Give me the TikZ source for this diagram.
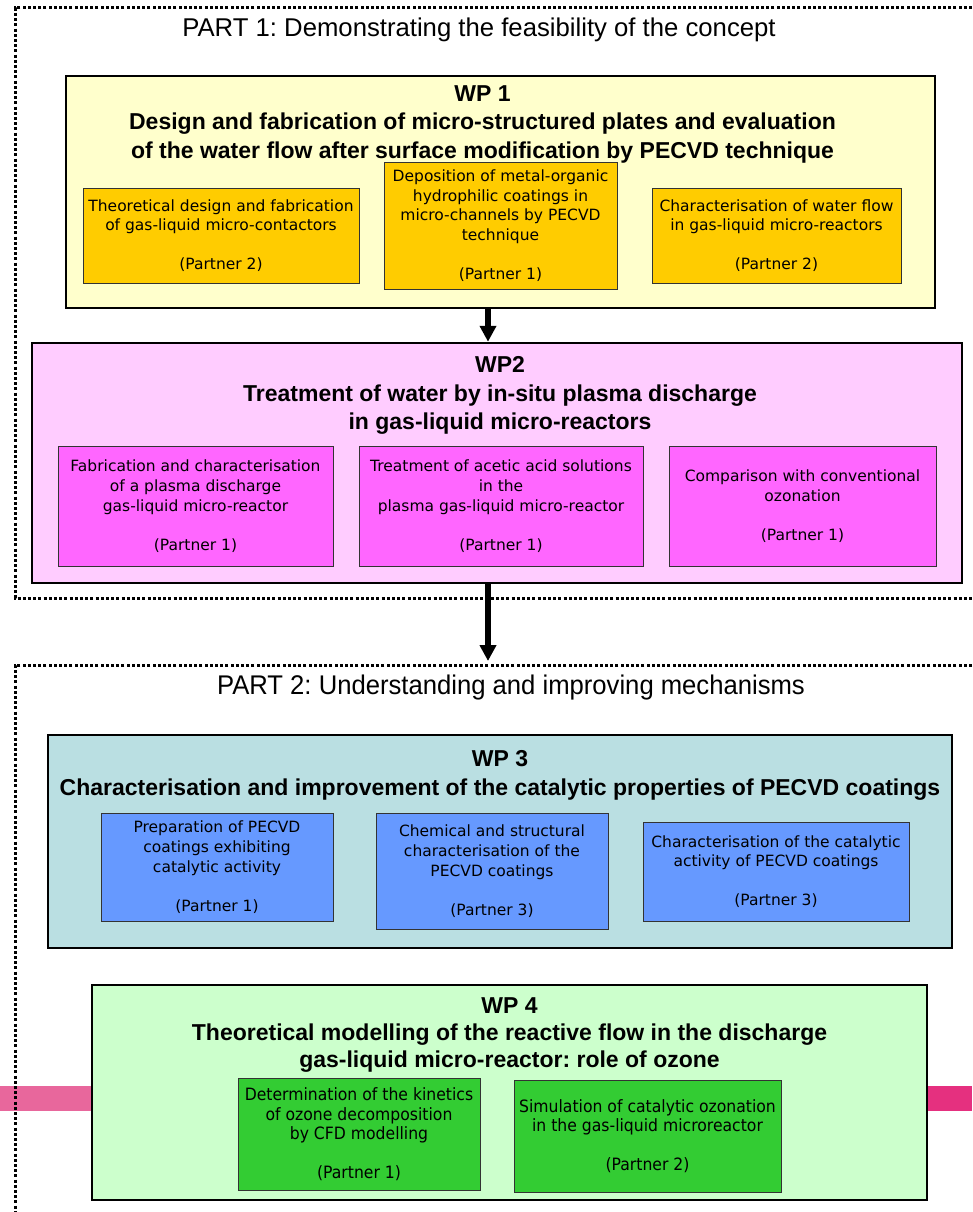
\documentclass[tikz,border=0pt]{standalone}
\usepackage{fontspec}
\setmainfont{Liberation Sans}
\newfontfamily\boxfont{DejaVu Sans}
\newfontfamily\boxnarrowfont[FakeStretch=0.92]{DejaVu Sans}
\newfontfamily\partnarrowfont[FakeStretch=0.95]{Liberation Sans}
\usetikzlibrary{positioning,arrows.meta}

\definecolor{wponeback}{HTML}{FFFFCC}
\definecolor{wponetask}{HTML}{FFCC00}
\definecolor{wptwoback}{HTML}{FFCCFF}
\definecolor{wptwotask}{HTML}{FF66FF}
\definecolor{wpthreeback}{HTML}{BADFE2}
\definecolor{wpthreetask}{HTML}{6699FF}
\definecolor{wpfourback}{HTML}{CCFFCC}
\definecolor{wpfourtask}{HTML}{33CC33}
\definecolor{barleft}{HTML}{E8679C}
\definecolor{barright}{HTML}{E5307F}

\tikzset{
  wpbox/.style={rectangle, draw=black, line width=2.5pt, inner sep=0pt},
  wptitle/.style={align=center, inner sep=0pt, font=\fontsize{23}{28.5}\selectfont\bfseries},
  task/.style={rectangle, draw=black!80, line width=0.9pt, align=center, inner sep=0pt,
    font=\fontsize{15.5}{19.8}\selectfont\boxfont},
  narrowtask/.style={task, font=\fontsize{17}{19.6}\selectfont\boxnarrowfont},
  partframe/.style={line width=3pt, dash pattern=on 3pt off 2.2pt},
  flowarrow/.style={line width=5.5pt, -{Triangle[length=16pt,width=16pt]}}
}

\begin{document}
\frenchspacing
\begin{tikzpicture}[x=1pt,y=-1pt]
\useasboundingbox (0,0) rectangle (972,1212);

% pink bars behind part 2
\fill[barleft] (0,1086) rectangle (92,1111);
\fill[barright] (927,1086) rectangle (972,1111);

% part frames
\draw[partframe] (972,8) -| (15,598) -- (972,598);
\draw[partframe] (972,665) -| (15,1212);
\coordinate (p2in) at (488,661);

\node[font=\fontsize{25.7}{30}\selectfont] (part1) at (479,30) {PART 1: Demonstrating the feasibility of the concept};
\node[font=\fontsize{27}{30}\selectfont\partnarrowfont] (part2) at (511,688) {PART 2: Understanding and improving mechanisms};

% WP 1
\node[wpbox, fill=wponeback, minimum width=869, minimum height=232] (wp1) at (500.5,192) {};
\node[wptitle, below=10.5pt of wp1.north, xshift=-18pt] (wp1t) {WP 1\\Design and fabrication of micro-structured plates and evaluation\\of the water flow after surface modification by PECVD technique};
\node[task, fill=wponetask, minimum width=276, minimum height=95] (t11) at (221,235.5)
  {Theoretical design and fabrication\\of gas-liquid micro-contactors\\[19pt](Partner 2)};
\node[task, fill=wponetask, minimum width=233, minimum height=127] (t12) at (500.5,225.5)
  {Deposition of metal-organic\\hydrophilic coatings in\\micro-channels by PECVD\\technique\\[19pt](Partner 1)};
\node[task, fill=wponetask, minimum width=249, minimum height=95] (t13) at (776.5,235.5)
  {Characterisation of water flow\\in gas-liquid micro-reactors\\[19pt](Partner 2)};

% WP 2
\node[wpbox, fill=wptwoback, minimum width=930, minimum height=240] (wp2) at (497,463) {};
\node[wptitle, below=14.5pt of wp2.north, xshift=3pt] (wp2t) {WP2\\Treatment of water by in-situ plasma discharge\\in gas-liquid micro-reactors};
\node[task, fill=wptwotask, minimum width=275, minimum height=120] (t21) at (195.5,506)
  {Fabrication and characterisation\\of a plasma discharge\\gas-liquid micro-reactor\\[19pt](Partner 1)};
\node[task, fill=wptwotask, minimum width=284, minimum height=120] (t22) at (501,506)
  {Treatment of acetic acid solutions\\in the\\plasma gas-liquid micro-reactor\\[19pt](Partner 1)};
\node[task, fill=wptwotask, minimum width=267, minimum height=120] (t23) at (802.5,506)
  {Comparison with conventional\\ozonation\\[19pt](Partner 1)};

\draw[flowarrow] (wp1.south -| p2in) -- (wp2.north -| p2in);
\draw[flowarrow] (wp2.south -| p2in) -- (p2in);

% WP 3
\node[wpbox, fill=wpthreeback, minimum width=904, minimum height=213] (wp3) at (500,841.5) {};
\node[wptitle, below=16.5pt of wp3.north] (wp3t) {WP 3\\Characterisation and improvement of the catalytic properties of PECVD coatings};
\node[task, fill=wpthreetask, minimum width=232, minimum height=108] (t31) at (217,867)
  {Preparation of PECVD\\coatings exhibiting\\catalytic activity\\[19pt](Partner 1)};
\node[task, fill=wpthreetask, minimum width=232, minimum height=116] (t32) at (492,871)
  {Chemical and structural\\characterisation of the\\PECVD coatings\\[19pt](Partner 3)};
\node[task, fill=wpthreetask, minimum width=266, minimum height=99] (t33) at (776,871.5)
  {Characterisation of the catalytic\\activity of PECVD coatings\\[19pt](Partner 3)};

% WP 4
\node[wpbox, fill=wpfourback, minimum width=835, minimum height=215] (wp4) at (509.5,1092.5) {};
\node[wptitle, below=14pt of wp4.north, font=\fontsize{23}{26.8}\selectfont\bfseries] (wp4t) {WP 4\\Theoretical modelling of the reactive flow in the discharge\\gas-liquid micro-reactor: role of ozone};
\node[narrowtask, fill=wpfourtask, minimum width=242, minimum height=112] (t41) at (359,1134)
  {Determination of the kinetics\\of ozone decomposition\\by CFD modelling\\[19pt](Partner 1)};
\node[narrowtask, fill=wpfourtask, minimum width=267, minimum height=112] (t42) at (647.5,1136)
  {Simulation of catalytic ozonation\\in the gas-liquid microreactor\\[19pt](Partner 2)};

\end{tikzpicture}
\end{document}
